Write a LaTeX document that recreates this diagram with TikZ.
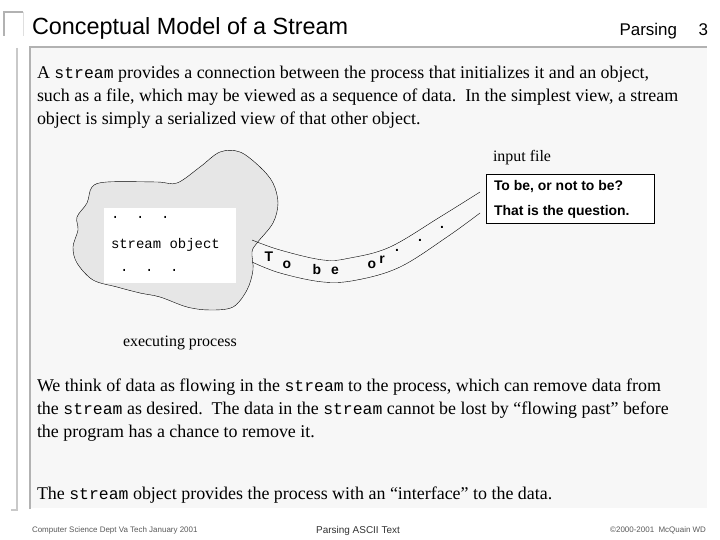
\documentclass[tikz,border=0pt]{standalone}
\usepackage{fontspec}
\setmainfont{Liberation Serif}
\setsansfont{Liberation Sans}
\setmonofont{Liberation Mono}
\usepackage{xcolor}
\definecolor{panel}{RGB}{247, 247, 247}
\definecolor{blobfill}{RGB}{230, 230, 230}
\definecolor{framegray}{RGB}{178, 178, 178}
\definecolor{footgray}{RGB}{90, 90, 90}
\usetikzlibrary{positioning, calc}

\newcommand{\strm}{{\ttfamily\fontsize{16.5}{20}\selectfont stream}}

\begin{document}
\begin{tikzpicture}[
    x=1bp, y=-1bp,
    every node/.style={inner sep=0pt, outer sep=0pt},
    frame/.style={draw=framegray, line width=1.6pt},
    title/.style={anchor=base west, font=\sffamily\fontsize{23.5}{27}\selectfont},
    body/.style={anchor=base west, font=\fontsize{18}{21}\selectfont},
    label/.style={anchor=base west, font=\fontsize{16}{19}\selectfont},
    filetext/.style={anchor=base west, font=\sffamily\bfseries\fontsize{14}{17}\selectfont},
    objtext/.style={anchor=base west, font=\ttfamily\fontsize{14}{17}\selectfont},
    letter/.style={font=\sffamily\bfseries\fontsize{14}{17}\selectfont},
    foot/.style={anchor=base, font=\sffamily\fontsize{8}{10}\selectfont, text=footgray}
]
\useasboundingbox (0,0) rectangle (720,540);

% ==================== SLIDE FRAME ====================
\fill[white] (0,0) rectangle (720,540);
\fill[panel] (30,47) rectangle (707,508);
\draw[framegray, line width=1.2pt] (23,12) -- (4,12) -- (4,36);
\draw[gray!25, line width=1pt] (23,12) -- (23,36);
\draw[framegray!70, line width=1.2pt] (17,48) -- (17,510) -- (11,510);
\draw[frame] (30,509) -- (30,47) -- (707,47);

% ==================== TITLE ====================
\node[title] (title) at (32,35) {Conceptual Model of a Stream};
\node[anchor=base east, font=\sffamily\fontsize{17}{20}\selectfont] (pageno) at (708,36) {3};
\node[anchor=base east, font=\sffamily\fontsize{17}{20}\selectfont] (topic) at (677,36) {Parsing};

% ==================== INTRO TEXT ====================
\node[body] (intro1) at (37,79) {A \strm{} provides a connection between the process that initializes it and an object,};
\node[body] (intro2) at (37,102) {such as a file, which may be viewed as a sequence of data.\ \ In the simplest view, a stream};
\node[body] (intro3) at (37,125) {object is simply a serialized view of that other object.};

% ==================== EXECUTING PROCESS ====================
\draw[black, thin, fill=blobfill] plot[smooth cycle, tension=0.55] coordinates {
    (92,187) (107,182) (157,182) (177,183) (200,167) (220,152) (240,152)
    (260,167) (273,183) (278,203) (273,223) (257,243) (252,252) (253,270)
    (247,290) (233,307) (210,310) (187,307) (160,297) (140,293) (117,287)
    (93,280) (77,263) (73,247) (78,230) (77,217) (87,203)
};
\node[fill=white, minimum width=132bp, minimum height=75bp, anchor=north west] (object) at (104,208) {};
\node[objtext] (odots1) at (111,219) {.\ \ .\ \ .};
\node[objtext] (oname) at (111,249) {stream object};
\node[objtext] (odots2) at (120,272) {.\ \ .\ \ .};
\node[label] (process) at (123,346) {executing process};

% ==================== INPUT FILE ====================
\node[draw=black, fill=white, thin, minimum width=168bp, minimum height=49bp, anchor=north west] (file) at (486,174) {};
\node[label, anchor=base west] (filelbl) at (493,162) {input file};
\node[filetext] (line1) at (494,191) {To be, or not to be?};
\node[filetext] (line2) at (494,216) {That is the question.};

% ==================== THE STREAM ====================
\coordinate (intop) at (252,240);
\coordinate (inbot) at (252,262);
\coordinate (outtop) at (480,192);
\coordinate (outbot) at (480,213);
\draw[thin] plot[smooth, tension=0.6] coordinates {(intop) (280,250) (323,260) (350,258) (390,247) (440,217) (outtop)};
\draw[thin] plot[smooth, tension=0.6] coordinates {(inbot) (280,273) (323,282) (357,280) (400,267) (447,237) (outbot)};
\foreach \ch/\px/\py in {T/269/257, o/287/265, b/317/270, e/335/271, o/372/265, r/382/260, ./397/250, ./420/240, ./442/227}
    \node[letter] at (\px,\py) {\ch};

% ==================== CLOSING TEXT ====================
\node[body] (flow1) at (37,391) {We think of data as flowing in the \strm{} to the process, which can remove data from};
\node[body] (flow2) at (37,414) {the \strm{} as desired.\ \ The data in the \strm{} cannot be lost by ``flowing past'' before};
\node[body] (flow3) at (37,437) {the program has a chance to remove it.};
\node[body] (iface) at (37,499) {The \strm{} object provides the process with an ``interface'' to the data.};

% ==================== FOOTER ====================
\node[foot, anchor=base west] (dept) at (32,532) {Computer Science Dept Va Tech January 2001};
\node[foot, font=\sffamily\fontsize{10}{12}\selectfont, text=black!80] (course) at (358,533) {Parsing ASCII Text};
\node[foot, anchor=base east] (copy) at (706,532) {\textcopyright2000-2001\ \ McQuain WD};

\end{tikzpicture}
\end{document}
